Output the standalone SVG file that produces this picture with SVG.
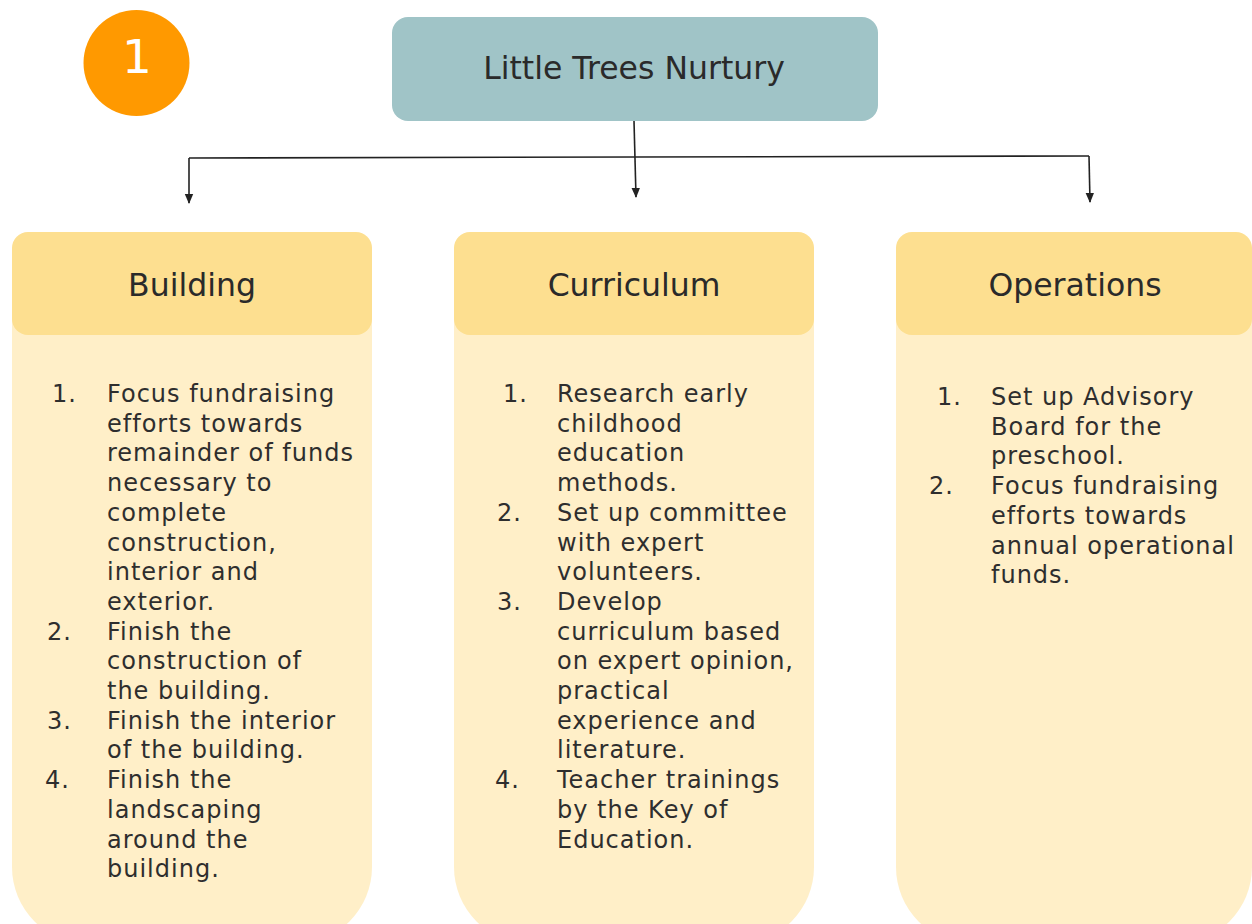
<svg xmlns="http://www.w3.org/2000/svg" width="1252" height="924" viewBox="0 0 1252 924">
  <style>
    .title { font-family: "DejaVu Sans", "Liberation Sans", sans-serif; font-size: 31.5px; fill: #2a2a2a; text-anchor: middle; }
    .head { font-family: "DejaVu Sans", "Liberation Sans", sans-serif; font-size: 31.5px; fill: #2a2a2a; text-anchor: middle; }
    .body { font-family: "DejaVu Sans", "Liberation Sans", sans-serif; font-size: 24px; letter-spacing: 1px; fill: #2e2e2e; }
    .hdr { fill: #FDDF90; }
    .card { fill: #FFEFC8; }
    .wire { fill: none; stroke: #222; stroke-width: 1.6; }
  </style>
  <defs>
    <marker id="arrow" markerUnits="userSpaceOnUse" markerWidth="10" markerHeight="12" refX="9" refY="5" orient="auto">
      <path d="M0,0.8 L10,5 L0,9.2 Z" fill="#222"/>
    </marker>
  </defs>

  <rect width="1252" height="924" fill="#ffffff"/>

  <!-- step badge -->
  <g id="badge">
    <circle cx="136.5" cy="63" r="53" fill="#FF9900"/>
    <text x="137" y="73" font-family="DejaVu Sans, sans-serif" font-size="47" fill="#ffffff" text-anchor="middle">1</text>
  </g>

  <!-- root node -->
  <g id="root">
    <rect x="392" y="17" width="486" height="104" rx="16" fill="#A0C4C7"/>
    <text class="title" x="634" y="79">Little Trees Nurtury</text>
  </g>

  <!-- connectors -->
  <g id="connectors">
    <path class="wire" d="M189,158 L1089,156"/>
    <path class="wire" d="M634,121 L636,197" marker-end="url(#arrow)"/>
    <path class="wire" d="M189,158 L189,203" marker-end="url(#arrow)"/>
    <path class="wire" d="M1089,156 L1090,202" marker-end="url(#arrow)"/>
  </g>

  <!-- Building column -->
  <g id="building">
    <path class="card" d="M12,300 L12,867 A77,77 0 0 0 89,944 L295,944 A77,77 0 0 0 372,867 L372,300 Z"/>
    <rect class="hdr" x="12" y="232" width="360" height="103" rx="16"/>
    <text class="head" x="192" y="296">Building</text>
    <text class="body">
      <tspan x="52" y="402">1.</tspan>
      <tspan x="47" y="639.6">2.</tspan>
      <tspan x="47" y="728.7">3.</tspan>
      <tspan x="45" y="788.1">4.</tspan>
    </text>
    <text class="body">
      <tspan x="107" y="402">Focus fundraising</tspan>
      <tspan x="107" dy="29.7">efforts towards</tspan>
      <tspan x="107" dy="29.7">remainder of funds</tspan>
      <tspan x="107" dy="29.7">necessary to</tspan>
      <tspan x="107" dy="29.7">complete</tspan>
      <tspan x="107" dy="29.7">construction,</tspan>
      <tspan x="107" dy="29.7">interior and</tspan>
      <tspan x="107" dy="29.7">exterior.</tspan>
      <tspan x="107" dy="29.7">Finish the</tspan>
      <tspan x="107" dy="29.7">construction of</tspan>
      <tspan x="107" dy="29.7">the building.</tspan>
      <tspan x="107" dy="29.7">Finish the interior</tspan>
      <tspan x="107" dy="29.7">of the building.</tspan>
      <tspan x="107" dy="29.7">Finish the</tspan>
      <tspan x="107" dy="29.7">landscaping</tspan>
      <tspan x="107" dy="29.7">around the</tspan>
      <tspan x="107" dy="29.7">building.</tspan>
    </text>
  </g>

  <!-- Curriculum column -->
  <g id="curriculum">
    <path class="card" d="M454,300 L454,867 A77,77 0 0 0 531,944 L737,944 A77,77 0 0 0 814,867 L814,300 Z"/>
    <rect class="hdr" x="454" y="232" width="360" height="103" rx="16"/>
    <text class="head" x="634" y="296">Curriculum</text>
    <text class="body">
      <tspan x="503" y="402">1.</tspan>
      <tspan x="497" y="520.8">2.</tspan>
      <tspan x="497" y="609.9">3.</tspan>
      <tspan x="495" y="788.1">4.</tspan>
    </text>
    <text class="body">
      <tspan x="557" y="402">Research early</tspan>
      <tspan x="557" dy="29.7">childhood</tspan>
      <tspan x="557" dy="29.7">education</tspan>
      <tspan x="557" dy="29.7">methods.</tspan>
      <tspan x="557" dy="29.7">Set up committee</tspan>
      <tspan x="557" dy="29.7">with expert</tspan>
      <tspan x="557" dy="29.7">volunteers.</tspan>
      <tspan x="557" dy="29.7">Develop</tspan>
      <tspan x="557" dy="29.7">curriculum based</tspan>
      <tspan x="557" dy="29.7">on expert opinion,</tspan>
      <tspan x="557" dy="29.7">practical</tspan>
      <tspan x="557" dy="29.7">experience and</tspan>
      <tspan x="557" dy="29.7">literature.</tspan>
      <tspan x="557" dy="29.7">Teacher trainings</tspan>
      <tspan x="557" dy="29.7">by the Key of</tspan>
      <tspan x="557" dy="29.7">Education.</tspan>
    </text>
  </g>

  <!-- Operations column -->
  <g id="operations">
    <path class="card" d="M896,300 L896,867 A77,77 0 0 0 973,944 L1175,944 A77,77 0 0 0 1252,867 L1252,300 Z"/>
    <rect class="hdr" x="896" y="232" width="356" height="103" rx="16"/>
    <text class="head" x="1075" y="296">Operations</text>
    <text class="body">
      <tspan x="937" y="405">1.</tspan>
      <tspan x="929" y="494.1">2.</tspan>
    </text>
    <text class="body">
      <tspan x="991" y="405">Set up Advisory</tspan>
      <tspan x="991" dy="29.7">Board for the</tspan>
      <tspan x="991" dy="29.7">preschool.</tspan>
      <tspan x="991" dy="29.7">Focus fundraising</tspan>
      <tspan x="991" dy="29.7">efforts towards</tspan>
      <tspan x="991" dy="29.7">annual operational</tspan>
      <tspan x="991" dy="29.7">funds.</tspan>
    </text>
  </g>
</svg>
